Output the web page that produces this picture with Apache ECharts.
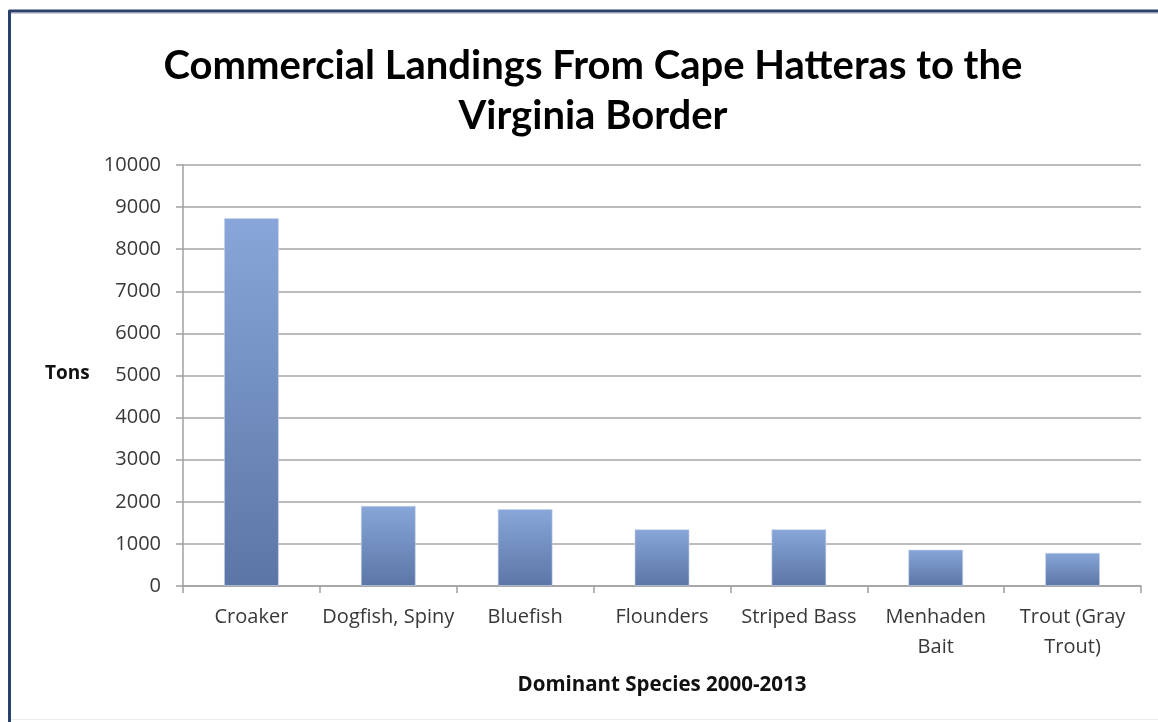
<!DOCTYPE html>
<html>
<head>
<meta charset="utf-8">
<script src="https://cdn.jsdelivr.net/npm/echarts@6/dist/echarts.min.js"></script>
<style>
html,body{margin:0;padding:0;background:#fff;}
#chart{width:1158px;height:722px;}
</style>
</head>
<body>
<div id="chart"></div>
<script>
const titleText = 'Commercial Landings From Cape Hatteras to the\nVirginia Border';
const categories = ['Croaker', 'Dogfish, Spiny', 'Bluefish', 'Flounders', 'Striped Bass', 'Menhaden\nBait', 'Trout (Gray\nTrout)'];
const tons = [8740, 1905, 1830, 1350, 1350, 865, 790];
const yAxisName = 'Tons';
const xAxisName = 'Dominant Species 2000-2013';

const chart = echarts.init(document.getElementById('chart'));
const TFONT = 'Lato, "Open Sans", sans-serif';
const FONT = '"Open Sans", Lato, sans-serif';
chart.setOption({
  backgroundColor: '#ffffff',
  animation: false,
  graphic: [
    { type: 'line', shape: { x1: 9, y1: 11, x2: 1170, y2: 11 }, style: { stroke: '#2a416b', lineWidth: 3 } },
    { type: 'line', shape: { x1: 9.5, y1: 10, x2: 9.5, y2: 730 }, style: { stroke: '#2a416b', lineWidth: 3 } },
    { type: 'line', shape: { x1: 11, y1: 13.5, x2: 1170, y2: 13.5 }, style: { stroke: '#c9ced8', lineWidth: 1 } },
    { type: 'line', shape: { x1: 11, y1: 719.5, x2: 1170, y2: 719.5 }, style: { stroke: '#ececec', lineWidth: 1 } },
    { type: 'text', left: 45, top: 364, style: { text: yAxisName, font: 'bold 19px ' + FONT, fill: '#111' } }
  ],
  title: {
    text: titleText,
    left: 588,
    textAlign: 'center',
    top: 36,
    textStyle: { fontFamily: TFONT, fontWeight: 'bold', fontSize: 40, lineHeight: 50, color: '#000' }
  },
  grid: { left: 183, right: 17, top: 165, bottom: 136, containLabel: false },
  xAxis: {
    type: 'category',
    data: categories,
    name: xAxisName,
    nameLocation: 'middle',
    nameGap: 89,
    nameTextStyle: { fontFamily: FONT, fontWeight: 'bold', fontSize: 20.5, color: '#111' },
    axisLine: { lineStyle: { color: '#a0a0a0', width: 1.5 } },
    axisTick: { show: true, length: 7, alignWithLabel: false, lineStyle: { color: '#a0a0a0', width: 1.5 } },
    axisLabel: { fontFamily: FONT, fontSize: 20, color: '#383838', margin: 16, lineHeight: 30, interval: 0 }
  },
  yAxis: {
    type: 'value',
    min: 0,
    max: 10000,
    interval: 1000,
    axisLine: { show: true, lineStyle: { color: '#a0a0a0', width: 1.5 } },
    axisTick: { show: true, length: 7, lineStyle: { color: '#a0a0a0', width: 1.5 } },
    axisLabel: { fontFamily: FONT, fontSize: 20, color: '#383838', margin: 22, formatter: function (v) { return String(v); } },
    splitLine: { show: true, lineStyle: { color: '#a6a6a6', width: 1.5 } }
  },
  series: [{
    type: 'bar',
    data: tons,
    barWidth: 55,
    itemStyle: {
      color: new echarts.graphic.LinearGradient(0, 0, 0, 1, [
        { offset: 0, color: '#88a6d9' },
        { offset: 1, color: '#5b76a6' }
      ]),
      borderColor: 'rgba(200,212,235,0.6)',
      borderWidth: 1
    }
  }]
});
</script>
</body>
</html>
